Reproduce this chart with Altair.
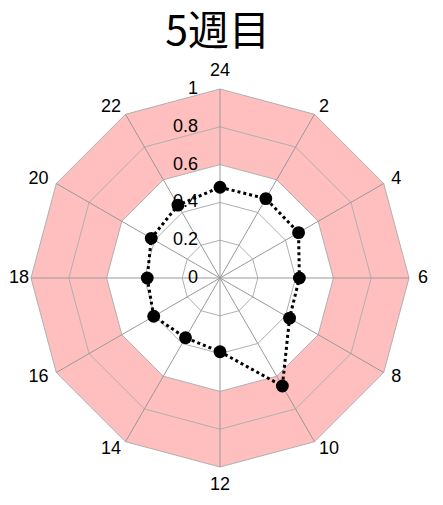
import math
import altair as alt
import pandas as pd

# ---- data ----
hours = [24, 2, 4, 6, 8, 10, 12, 14, 16, 18, 20, 22]
values = [0.48, 0.485, 0.48, 0.42, 0.425, 0.66, 0.39, 0.365, 0.405, 0.385, 0.42, 0.445]
ring_levels = [0.2, 0.4, 0.6, 0.8, 1.0]
band = [0.6, 1.0]
tick_values = [0, 0.2, 0.4, 0.6, 0.8, 1.0]
tick_labels = ["0", "0.2", "0.4", "0.6", "0.8", "1"]
title_text = "5週目"

n = len(hours)
LABEL_R = 1.047


def pt(i, r):
    a = 2 * math.pi * i / n
    return r * math.sin(a), r * math.cos(a)


rings = []
for lv in ring_levels:
    for i in range(n):
        x, y = pt(i, lv)
        rings.append({"level": lv, "idx": i, "x": x, "y": y})
rings = pd.DataFrame(rings)

band_rows = []
for lv in band:
    for i in range(n):
        x, y = pt(i, lv)
        band_rows.append({"level": lv, "idx": i, "x": x, "y": y})
band_df = pd.DataFrame(band_rows)

spokes = pd.DataFrame([{"x": 0.0, "y": 0.0, "x2": pt(i, 1.0)[0], "y2": pt(i, 1.0)[1]} for i in range(n)])

series = pd.DataFrame([{"idx": i, "hour": hours[i], "value": values[i],
                        "x": pt(i, values[i])[0], "y": pt(i, values[i])[1]} for i in range(n)])

lab_rows = []
for i in range(n):
    x, y = pt(i, LABEL_R)
    side = "center" if i in (0, 6) else ("right_side" if i < 6 else "left_side")
    lab_rows.append({"label": str(hours[i]), "x": x, "y": y, "side": side, "idx": i})
labels = pd.DataFrame(lab_rows)

ticks = pd.DataFrame({"v": tick_values, "t": tick_labels, "x": [0.0] * len(tick_values)})

# ---- scales ----
R = 189.0
W, H = 427, 437
xs = alt.Scale(domain=[-212 / R, (W - 212) / R], nice=False, zero=False)
ys = alt.Scale(domain=[-(H - 218) / R, 218 / R], nice=False, zero=False)
X = lambda f="x": alt.X(f"{f}:Q", scale=xs, axis=None)
Y = lambda f="y": alt.Y(f"{f}:Q", scale=ys, axis=None)

outer = alt.Chart(band_df[band_df.level == band[1]]).mark_line(
    interpolate="linear-closed", fill="#ffbfbf", strokeWidth=0
).encode(x=X(), y=Y(), order="idx:Q")

inner = alt.Chart(band_df[band_df.level == band[0]]).mark_line(
    interpolate="linear-closed", fill="white", strokeWidth=0
).encode(x=X(), y=Y(), order="idx:Q")

ring_lines = alt.Chart(rings).mark_line(
    interpolate="linear-closed", color="#b0b0b0", strokeWidth=1
).encode(x=X(), y=Y(), order="idx:Q", detail="level:N")

spoke_lines = alt.Chart(spokes).mark_rule(color="#999999", strokeWidth=1).encode(
    x=X(), y=Y(), x2="x2:Q", y2="y2:Q"
)

tick_text = alt.Chart(ticks).mark_text(
    align="right", baseline="middle", dx=-22, fontSize=18, font="Liberation Sans", color="black"
).encode(x=X(), y=Y("v"), text="t:N")

data_line = alt.Chart(series).mark_line(
    interpolate="linear-closed", color="black", strokeWidth=3, strokeDash=[3, 3]
).encode(x=X(), y=Y(), order="idx:Q")

data_pts = alt.Chart(series).mark_circle(size=165, color="black", opacity=1).encode(x=X(), y=Y())

lab_common = dict(fontSize=18, font="Liberation Sans", color="black")
lab_right = alt.Chart(labels[labels.side == "right_side"]).mark_text(
    align="left", baseline="middle", **lab_common).encode(x=X(), y=Y(), text="label:N")
lab_left = alt.Chart(labels[(labels.side == "left_side") & (labels.idx != 9)]).mark_text(
    align="right", baseline="middle", **lab_common).encode(x=X(), y=Y(), text="label:N")
# the 18 label sits at the very left edge: nudge it in so it stays inside the page
lab_left_edge = alt.Chart(labels[labels.idx == 9]).mark_text(
    align="right", baseline="middle", dx=7, **lab_common).encode(x=X(), y=Y(), text="label:N")
lab_top = alt.Chart(labels[(labels.side == "center") & (labels.idx == 0)]).mark_text(
    align="center", baseline="bottom", **lab_common).encode(x=X(), y=Y(), text="label:N")
lab_bot = alt.Chart(labels[(labels.side == "center") & (labels.idx == 6)]).mark_text(
    align="center", baseline="top", **lab_common).encode(x=X(), y=Y(), text="label:N")

chart = alt.layer(
    outer, inner, ring_lines, spoke_lines, tick_text, data_line, data_pts,
    lab_right, lab_left, lab_left_edge, lab_top, lab_bot
).properties(
    width=W, height=H,
    title=alt.TitleParams(title_text, fontSize=41, font="Noto Sans CJK JP", fontWeight="normal",
                          color="black", anchor="middle", offset=6, dx=-4),
    autosize=alt.AutoSizeParams(type="none"),
    padding={"left": 0, "top": 52, "right": 0, "bottom": 0},
).configure_view(stroke=None)

chart.save("out.html", embed_options={"renderer": "svg", "actions": False})
